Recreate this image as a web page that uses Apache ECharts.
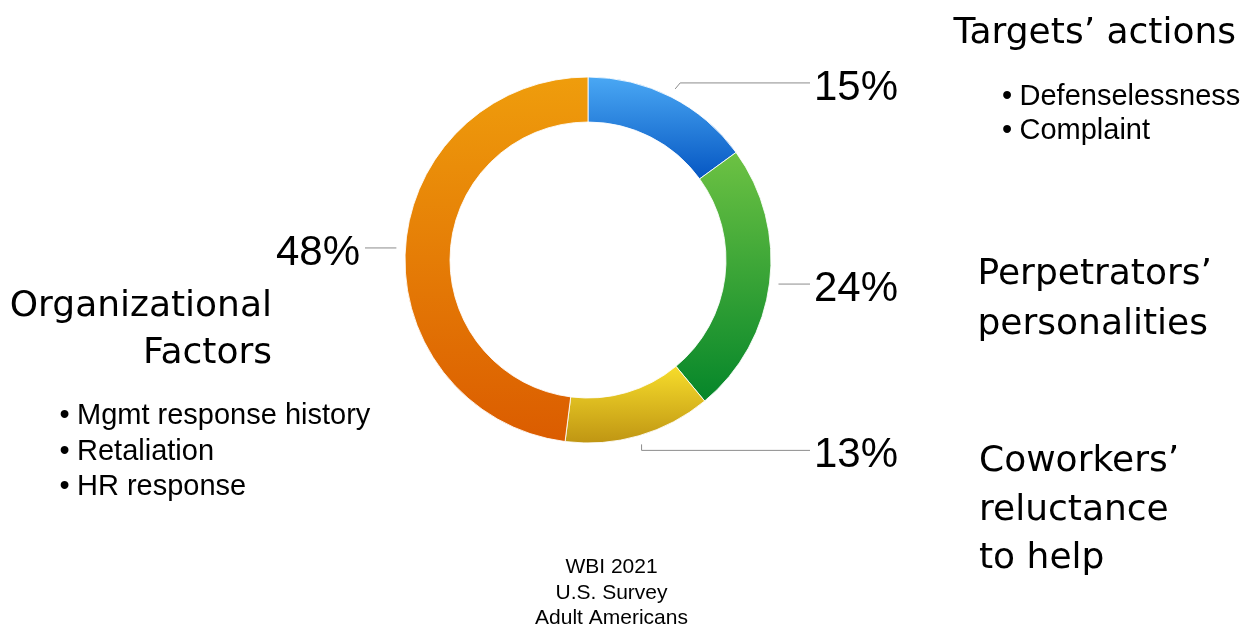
<!DOCTYPE html>
<html>
<head>
<meta charset="utf-8">
<script src="https://cdn.jsdelivr.net/npm/echarts@6/dist/echarts.min.js"></script>
<style>
  html, body { margin: 0; padding: 0; background: #fff; }
  #chart { width: 1251px; height: 626px; }
</style>
</head>
<body>
<div id="chart"></div>
<script>
// Share of responsibility for workplace bullying, by cause group (percent)
const categories = ['Targets’ actions', 'Perpetrators’ personalities', 'Coworkers’ reluctance to help', 'Organizational Factors'];
const shares = [15, 24, 13, 48];

// Headings and bullet items printed beside each group
const targetsHeading = ['Targets’ actions'];
const targetsItems = ['Defenselessness', 'Complaint'];
const perpetratorsHeading = ['Perpetrators’', 'personalities'];
const coworkersHeading = ['Coworkers’', 'reluctance', 'to help'];
const organizationHeading = ['Organizational', 'Factors'];
const organizationItems = ['Mgmt response history', 'Retaliation', 'HR response'];
const sourceNote = ['WBI 2021', 'U.S. Survey', 'Adult Americans'];

// ---- styling and layout ----
const SANS = '"Liberation Sans", Arial, Helvetica, sans-serif';
const WIDE = '"DejaVu Sans", "Liberation Sans", sans-serif';
const CENTER = [588, 260];
const RADII = [138, 183];
const LEAD_R = 192; // radius where leader lines begin

// top/bottom colours of each slice's vertical gradient
const sliceGradients = [
  ['#4aa8f4', '#0556c2'],
  ['#6dc243', '#05862a'],
  ['#f7dd2b', '#bf9513'],
  ['#ef9d0c', '#db5c00']
];

// leader-line shape per slice: elbow offset and where the horizontal run ends
const leaders = [
  { dx: 5, dy: -6, endX: 810 },
  { dx: 0, dy: 0, endX: 810 },
  { dx: 0, dy: 6, endX: 810 },
  { dx: 0, dy: 0, endX: 365 }
];

const total = shares.reduce((a, b) => a + b, 0);
function midAngle(i) {
  let before = 0;
  for (let j = 0; j < i; j++) before += shares[j];
  return (before + shares[i] / 2) / total * Math.PI * 2;
}

const pieData = categories.map((name, i) => ({
  name: name,
  value: shares[i],
  itemStyle: {
    color: new echarts.graphic.LinearGradient(0, 0, 0, 1, [
      { offset: 0, color: sliceGradients[i][0] },
      { offset: 1, color: sliceGradients[i][1] }
    ])
  }
}));

// multi-line text block positioned by the vertical centre of its first line
function textBlock(lines, x, firstMid, fs, lh, family, align) {
  return {
    type: 'text',
    silent: true,
    x: x,
    y: firstMid - lh / 2,
    style: {
      text: lines.join('\n'),
      font: fs + 'px ' + family,
      fill: '#000',
      align: align,
      textAlign: align,
      verticalAlign: 'top',
      textVerticalAlign: 'top',
      lineHeight: lh
    }
  };
}
function bullets(n) {
  return Array.from({ length: n }, () => '•');
}

const graphics = [
  textBlock(targetsHeading, 953.5, 34, 36, 48, WIDE, 'left'),
  textBlock(bullets(targetsItems.length), 1007, 96.5, 29, 34, SANS, 'center'),
  textBlock(targetsItems, 1019.5, 96.5, 29, 34, SANS, 'left'),
  textBlock(perpetratorsHeading, 977.5, 275, 36, 49.5, WIDE, 'left'),
  textBlock(coworkersHeading, 979, 462, 36, 48.5, WIDE, 'left'),
  textBlock(organizationHeading, 272, 307, 36, 46.5, WIDE, 'right'),
  textBlock(bullets(organizationItems.length), 64.5, 416, 29, 35.5, SANS, 'center'),
  textBlock(organizationItems, 77, 416, 29, 35.5, SANS, 'left'),
  textBlock(sourceNote, 611.5, 567, 21, 25.8, SANS, 'center')
];

const chart = echarts.init(document.getElementById('chart'), null, { renderer: 'canvas' });
chart.setOption({
  backgroundColor: '#ffffff',
  animation: false,
  series: [{
    type: 'pie',
    center: CENTER,
    radius: RADII,
    startAngle: 90,
    clockwise: true,
    avoidLabelOverlap: false,
    silent: true,
    data: pieData,
    itemStyle: { borderColor: 'rgba(255,255,255,0.85)', borderWidth: 1 },
    label: {
      show: true,
      position: 'outside',
      formatter: '{c}%',
      fontFamily: SANS,
      fontSize: 42,
      color: '#000'
    },
    labelLine: {
      show: true,
      lineStyle: { color: '#8c8c8c', width: 1 }
    },
    labelLayout: function (p) {
      const i = p.dataIndex;
      const a = midAngle(i);
      const sx = CENTER[0] + LEAD_R * Math.sin(a);
      const sy = CENTER[1] - LEAD_R * Math.cos(a);
      const g = leaders[i];
      const ry = sy + g.dy;
      const right = g.endX > CENTER[0];
      return {
        x: right ? g.endX + 4 : g.endX - 5,
        y: ry + 5.5,
        align: right ? 'left' : 'right',
        verticalAlign: 'middle',
        labelLinePoints: [[sx, sy], [sx + g.dx, ry], [g.endX, ry]]
      };
    }
  }],
  graphic: graphics
});
</script>
</body>
</html>
